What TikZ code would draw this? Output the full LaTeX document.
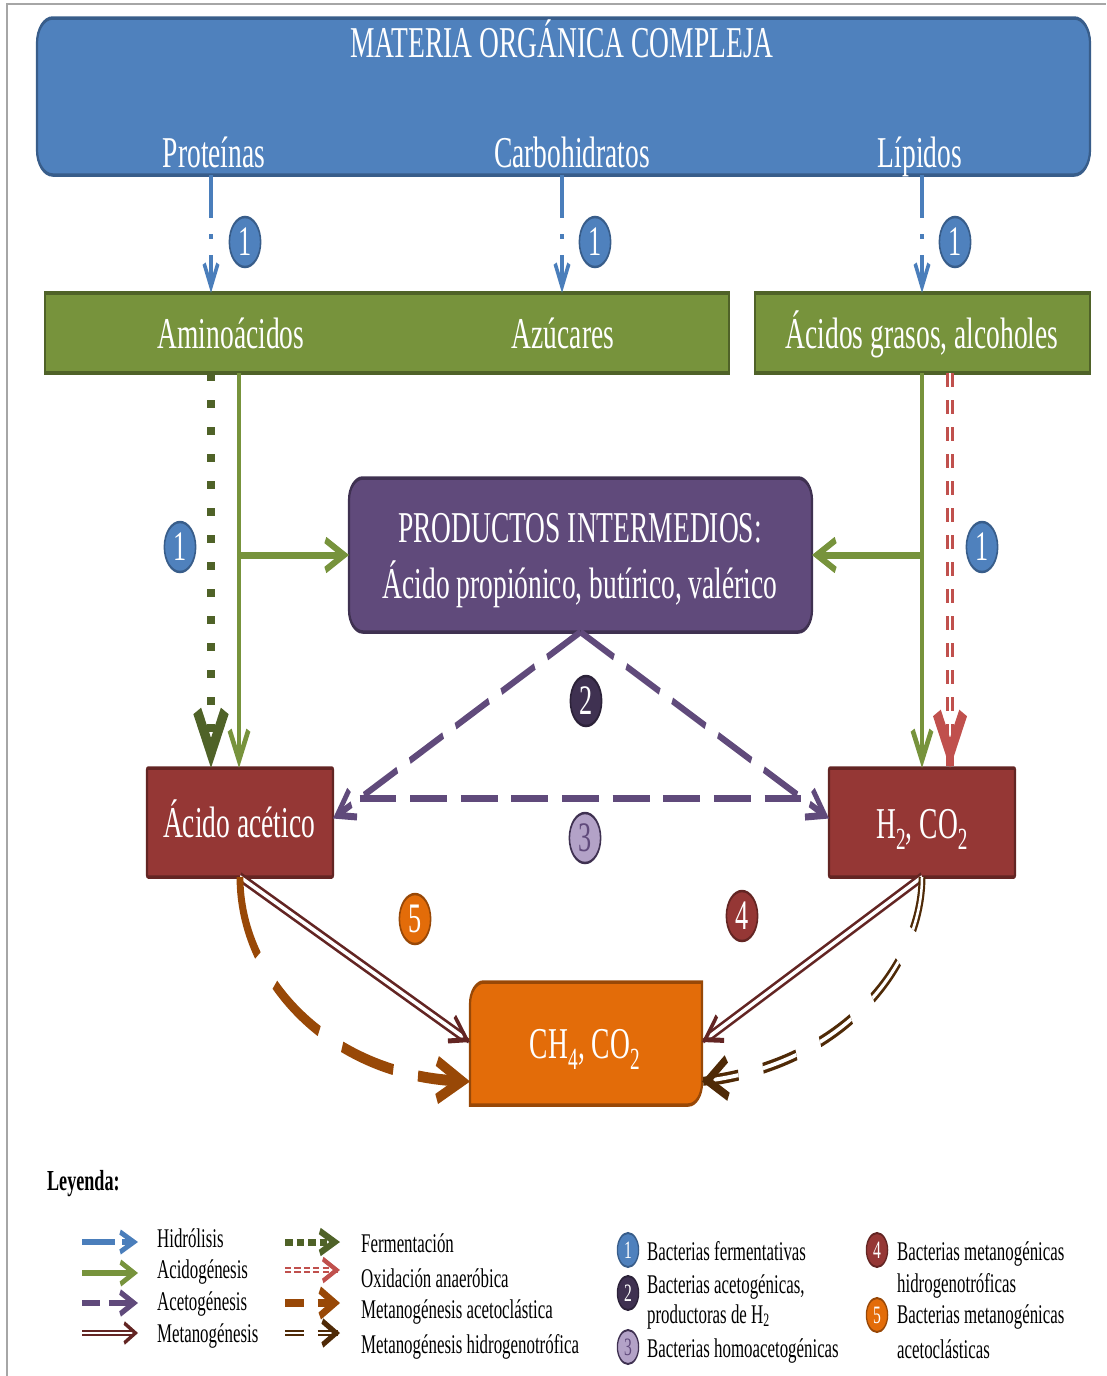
\documentclass[tikz,border=0pt]{standalone}
\usepackage{fontspec}
\setmainfont{Liberation Serif}
\usetikzlibrary{arrows.meta,calc}
\definecolor{bfill}{HTML}{4F81BD}
\definecolor{bdraw}{HTML}{385D8A}
\definecolor{gfill}{HTML}{77933C}
\definecolor{gdraw}{HTML}{4F6228}
\definecolor{pfill}{HTML}{604A7B}
\definecolor{pdraw}{HTML}{3F3151}
\definecolor{rfill}{HTML}{953735}
\definecolor{rdraw}{HTML}{632523}
\definecolor{ofill}{HTML}{E36C09}
\definecolor{odraw}{HTML}{984807}
\definecolor{hblue}{HTML}{4A7EBB}
\definecolor{oxred}{HTML}{C0504D}
\definecolor{brn}{HTML}{4F2A07}
\definecolor{lpurple}{HTML}{B3A2C7}
\definecolor{framec}{HTML}{A6A6A6}
\newcommand\fsz[1]{\fontsize{#1}{#1}\selectfont}
\tikzset{
  boxbase/.style={draw, line width=3.5pt, inner sep=0pt, outer sep=0pt},
  bluebox/.style={boxbase, fill=bfill, draw=bdraw, rounded corners=25pt, minimum width=1684.8pt, minimum height=157pt},
  greenbox/.style={boxbase, fill=gfill, draw=gdraw, minimum height=80pt},
  purplebox/.style={boxbase, fill=pfill, draw=pdraw, rounded corners=22pt, minimum width=740.8pt, minimum height=154pt},
  redbox/.style={boxbase, fill=rfill, draw=rdraw, rounded corners=2pt, minimum width=297.6pt, minimum height=109pt},
  chslot/.style={inner sep=0pt, outer sep=0pt, minimum width=371.2pt, minimum height=123pt},
  chbox/.style={fill=ofill, draw=odraw, line width=3.5pt},
  lbl/.style={text=white, font=\fsz{44}, inner sep=0pt, anchor=base},
  num/.style={circle, draw, line width=2.5pt, minimum size=50pt, inner sep=0pt, text=white, font=\fsz{42}},
  n1/.style={num, fill=bfill, draw=bdraw},
  n2/.style={num, fill=pdraw, draw=pdraw!70!black},
  n3/.style={num, fill=lpurple, draw=pdraw, text=pfill},
  n4/.style={num, fill=rfill, draw=rdraw},
  n5/.style={num, fill=ofill, draw=odraw},
  smallnum/.style={minimum size=34pt, line width=2pt, font=\fsz{25}},
  legtxt/.style={font=\fsz{27}, inner sep=0pt, anchor=base west},
  hyd/.style={draw=hblue, line width=5.5pt, dash pattern=on 43pt off 16pt on 5pt off 16pt, -{Straight Barb[length=23pt,width=22pt]}},
  acid/.style={draw=gfill, line width=7pt, -{Straight Barb[length=30pt,width=30pt]}},
  ferm/.style={draw=gdraw, line width=14pt, dash pattern=on 8pt off 19pt, -{Straight Barb[length=42pt,width=44pt]}},
  oxid/.style={draw=oxred, double=white, line width=4.5pt, double distance=3.7pt, dash pattern=on 14pt off 13pt},
  oxtip/.style={draw=oxred, line width=14pt, -{Straight Barb[length=40pt,width=42pt]}},
  aceto/.style={draw=pfill, line width=7pt, dash pattern=on 59pt off 22pt, -{Straight Barb[length=28pt,width=30pt]}},
  acetoline/.style={draw=pfill, line width=7pt, dash pattern=on 59pt off 22pt},
  meth/.style={draw=rdraw, double=white, line width=3pt, double distance=4pt},
  methtip/.style={draw=rdraw, line width=5pt, -{Straight Barb[length=27pt,width=27pt]}},
  acl/.style={draw=odraw, line width=11pt, dash pattern=on 85pt off 40pt, -{Straight Barb[length=40pt,width=38pt]}},
  hgt/.style={draw=brn, double=white, line width=3.5pt, double distance=4pt, dash pattern=on 55pt off 40pt},
  hgttip/.style={draw=brn, line width=9pt, -{Straight Barb[length=32pt,width=38pt]}},
  lhyd/.style={draw=hblue, line width=5.5pt, dash pattern=on 53pt off 11pt on 60pt, -{Straight Barb[length=22pt,width=20pt]}},
  lacid/.style={draw=gfill, line width=5.5pt, -{Straight Barb[length=22pt,width=22pt]}},
  laceto/.style={draw=pfill, line width=6pt, dash pattern=on 29pt off 14pt on 60pt, -{Straight Barb[length=22pt,width=22pt]}},
  lmeth/.style={draw=rdraw, double=white, line width=2pt, double distance=2.5pt},
  lmethtip/.style={draw=rdraw, line width=4pt, -{Straight Barb[length=18pt,width=20pt]}},
  lferm/.style={draw=gdraw, line width=7pt, dash pattern=on 12pt off 6.4pt, -{Straight Barb[length=24pt,width=22pt]}},
  loxid/.style={draw=oxred, double=white, line width=1.6pt, double distance=2.2pt, dash pattern=on 10pt off 5pt},
  loxtip/.style={draw=oxred, line width=5pt, -{Straight Barb[length=22pt,width=22pt]}},
  lacl/.style={draw=odraw, line width=8pt, dash pattern=on 30pt off 22pt on 60pt, -{Straight Barb[length=24pt,width=26pt]}},
  lhgt/.style={draw=brn, double=white, line width=2.2pt, double distance=2.5pt, dash pattern=on 30pt off 22pt on 60pt},
  lhgttip/.style={draw=brn, line width=6pt, -{Straight Barb[length=22pt,width=24pt]}},
}
\begin{document}
\begin{tikzpicture}[x=1pt,y=-1pt]
\useasboundingbox (0,0) rectangle (1106,1376);
\draw[framec, line width=2pt] (7,1376) -- (7,4) -- (1106,4);
\begin{scope}[transform canvas={xscale=0.625}, x=1.6pt, y=-1pt]
% ---------- boxes ----------
\node[bluebox] (mat) at (563.5,96.5) {};
\node[lbl] (tit) at (562,57) {MATERIA ORGÁNICA COMPLEJA};
\node[lbl] (prot) at (214,167) {Proteínas};
\node[lbl] (carb) at (572,167) {Carbohidratos};
\node[lbl] (lip) at (920,167) {Lípidos};

\node[greenbox, minimum width=1094.4pt] (ga) at (387,333) {};
\node[greenbox, minimum width=536pt] (gb) at (922.5,333) {};
\node[lbl] (amino) at (231,348) {Aminoácidos};
\node[lbl] (azu) at (563,348) {Azúcares};
\node[lbl] (acg) at (922,348) {Ácidos grasos, alcoholes};

\node[purplebox] (pi) at (580.5,555) {};
\node[lbl] (pi1) at (580,542) {PRODUCTOS INTERMEDIOS:};
\node[lbl] (pi2) at (580,598) {Ácido propiónico, butírico, valérico};

\node[redbox] (aa) at (240,822.5) {};
\node[lbl] (aat) at (239,837) {Ácido acético};
\node[redbox] (hc) at (922,822.5) {};
\node[lbl] (hct) at (922,838) {H\textsubscript{2}, CO\textsubscript{2}};

\node[chslot] (ch) at (586,1043.5) {};
\draw[chbox] (ch.south west) -- (ch.west) [rounded corners=22pt] -- (ch.north west) -- (ch.north) [sharp corners] -- (ch.north east) -- (ch.east) [rounded corners=22pt] -- (ch.south east) -- (ch.south) [sharp corners] -- cycle;
\node[lbl] (cht) at (585,1058) {CH\textsubscript{4}, CO\textsubscript{2}};

% ---------- columns ----------
\coordinate (hx1) at (211,0);
\coordinate (hx2) at (562,0);
\coordinate (hx3) at (922,0);
\coordinate (fx) at (211,0);
\coordinate (ax1) at (239,0);
\coordinate (ax2) at (922,0);
\coordinate (ox) at (950,0);

% hydrolysis
\draw[hyd] (mat.south -| hx1) -- (ga.north -| hx1);
\draw[hyd] (mat.south -| hx2) -- (ga.north -| hx2);
\draw[hyd] (mat.south -| hx3) -- (gb.north -| hx3);

% fermentation and acidogenesis
\draw[ferm] (ga.south -| fx) -- (aa.north -| fx);
\draw[acid] (ga.south -| ax1) -- (aa.north -| ax1);
\draw[acid] (ax1 |- pi.west) -- (pi.west);
\draw[acid] (gb.south -| ax2) -- (hc.north -| ax2);
\draw[acid] (ax2 |- pi.east) -- (pi.east);

% anaerobic oxidation
\coordinate (oxs) at (gb.south -| ox);
\coordinate (oxe) at (hc.north -| ox);
\draw[oxid, shorten >=14pt] (oxs) -- (oxe);
\draw[oxtip] ($(oxe)+(0,-2)$) -- (oxe);

% acetogenesis
\coordinate (aaT) at ([yshift=4pt]aa.east);
\coordinate (hcT) at ([yshift=4pt]hc.west);
\draw[aceto] (pi.south) -- (aaT);
\draw[aceto] (pi.south) -- (hcT);
\draw[acetoline] ($(pi.south)!0.8925!(aaT)$) -- ($(pi.south)!0.8925!(hcT)$);

% methanogenesis
\coordinate (m1e) at ([yshift=1.5pt]ch.west);
\coordinate (m2e) at ([yshift=1.5pt]ch.east);
\draw[meth, shorten >=14pt] (aa.south) -- (m1e);
\draw[methtip] ($(m1e)!2pt!(aa.south)$) -- (m1e);
\draw[meth, shorten >=14pt] (hc.south) -- (m2e);
\draw[methtip] ($(m2e)!2pt!(hc.south)$) -- (m2e);

% acetoclastic
\coordinate (oE) at ([yshift=-38pt]ch.west);
\draw[acl] (aa.south) .. controls (240,980) and (330,1075) .. (oE);

% hydrogenotrophic
\coordinate (bE) at ([yshift=-38pt]ch.east);
\coordinate (bc1) at (922,960);
\coordinate (bc2) at (850,1060);
\draw[hgt, shorten >=16pt] (hc.south) .. controls (bc1) and (bc2) .. (bE);
\draw[hgttip] ($(bE)!2pt!(bc2)$) -- (bE);

% ---------- numbered circles ----------
\node[n1] (c1a) at (245,242) {1};
\node[n1] (c1b) at (595,242) {1};
\node[n1] (c1c) at (955,242) {1};
\node[n1] (c1d) at (180,547) {1};
\node[n1] (c1e) at (982,547) {1};
\node[n2] (c2) at (586,701) {2};
\node[n3] (c3) at (585,838) {3};
\node[n5] (c5) at (415,919) {5};
\node[n4] (c4) at (742,916) {4};

% ---------- legend ----------
\node[legtxt, font=\bfseries\fsz{29}] (ley) at (47,1190) {Leyenda:};

\coordinate (la1) at (82,1242);  \coordinate (lb1) at (138,1242);
\coordinate (la2) at (82,1273);  \coordinate (lb2) at (138,1273);
\coordinate (la3) at (82,1303);  \coordinate (lb3) at (138,1303);
\coordinate (la4) at (82,1333);  \coordinate (lb4) at (138,1333);
\coordinate (ra1) at (285,1242); \coordinate (rb1) at (340,1242);
\coordinate (ra2) at (285,1270); \coordinate (rb2) at (340,1270);
\coordinate (ra3) at (285,1303); \coordinate (rb3) at (340,1303);
\coordinate (ra4) at (285,1333); \coordinate (rb4) at (340,1333);

\draw[lhyd] (la1) -- (lb1);
\draw[lacid] (la2) -- (lb2);
\draw[laceto] (la3) -- (lb3);
\draw[lmeth, shorten >=8pt] (la4) -- (lb4);
\draw[lmethtip] ($(lb4)+(-2,0)$) -- (lb4);
\draw[lferm] (ra1) -- (rb1);
\draw[loxid, shorten >=12pt] (ra2) -- (rb2);
\draw[loxtip] ($(rb2)+(-2,0)$) -- (rb2);
\draw[lacl] (ra3) -- (rb3);
\draw[lhgt, shorten >=10pt] (ra4) -- (rb4);
\draw[lhgttip] ($(rb4)+(-2,0)$) -- (rb4);

\node[legtxt] (t1) at (157,1247) {Hidrólisis};
\node[legtxt] (t2) at (157,1278) {Acidogénesis};
\node[legtxt] (t3) at (157,1310) {Acetogénesis};
\node[legtxt] (t4) at (157,1342) {Metanogénesis};
\node[legtxt] (t5) at (361,1252) {Fermentación};
\node[legtxt] (t6) at (361,1287) {Oxidación anaeróbica};
\node[legtxt] (t7) at (361,1318) {Metanogénesis acetoclástica};
\node[legtxt] (t8) at (361,1353) {Metanogénesis hidrogenotrófica};

\node[n1, smallnum] (k1) at (628,1250) {1};
\node[n2, smallnum] (k2) at (628,1293) {2};
\node[n3, smallnum] (k3) at (628,1347) {3};
\node[n4, smallnum] (k4) at (877,1250) {4};
\node[n5, smallnum] (k5) at (877,1315) {5};

\node[legtxt] (b1) at (647,1260) {Bacterias fermentativas};
\node[legtxt] (b2) at (647,1293) {Bacterias acetogénicas,};
\node[legtxt] (b3) at (647,1323) {productoras de H\textsubscript{2}};
\node[legtxt] (b4) at (647,1357) {Bacterias homoacetogénicas};
\node[legtxt] (b5) at (897,1260) {Bacterias metanogénicas};
\node[legtxt] (b6) at (897,1292) {hidrogenotróficas};
\node[legtxt] (b7) at (897,1323) {Bacterias metanogénicas};
\node[legtxt] (b8) at (897,1358) {acetoclásticas};
\end{scope}
\end{tikzpicture}
\end{document}
